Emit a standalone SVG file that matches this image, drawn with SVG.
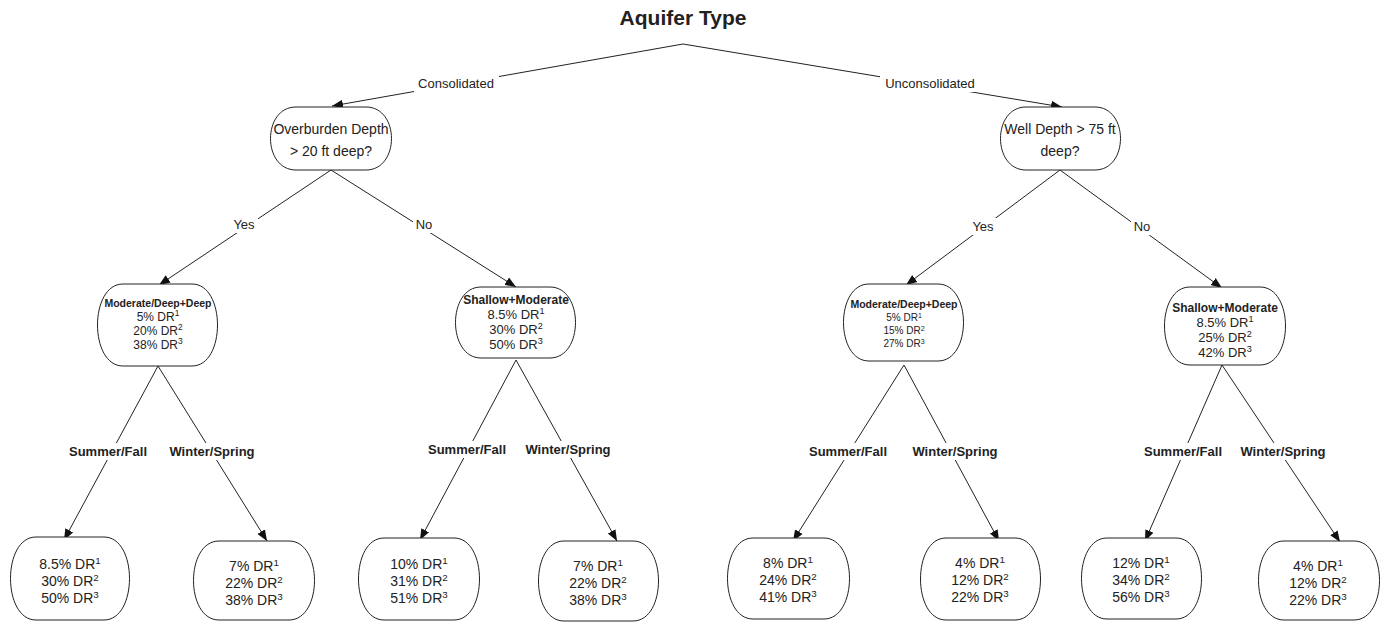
<svg xmlns="http://www.w3.org/2000/svg" width="1387" height="623" viewBox="0 0 1387 623">
<style>
.bg{fill:#fff}
.node{fill:#fff;stroke:#222;stroke-width:1}
.edge{stroke:#222;stroke-width:1;fill:none;marker-end:url(#arr)}
.lb{fill:#fff}
text{font-family:"Liberation Sans",Arial,sans-serif;fill:#222;text-anchor:middle}
.t{font-size:14px}
.el{font-size:13px}
.sl{font-size:13px;font-weight:bold}
.title{font-size:21px;font-weight:bold}
.s{font-size:70%;baseline-shift:super}
</style>
<defs>
<marker id="arr" viewBox="0 0 10 10" refX="10" refY="5" markerWidth="11" markerHeight="11" markerUnits="userSpaceOnUse" orient="auto">
<path d="M0,1 L10,5 L0,9 Z" fill="#111"/>
</marker>
</defs>
<rect class="bg" x="0" y="0" width="1387" height="623"/>
<text class="title" x="683" y="25">Aquifer Type</text>

<g id="connectors">
<path class="edge" d="M683,44 L332,106"/>
<path class="edge" d="M683,44 L1062,107"/>
<path class="edge" d="M331,170 L159,285"/>
<path class="edge" d="M331,170 L516,287"/>
<path class="edge" d="M1060,170 L906,285"/>
<path class="edge" d="M1060,170 L1222,288"/>
<path class="edge" d="M158,366 L64,540"/>
<path class="edge" d="M158,366 L267,541"/>
<path class="edge" d="M516,360 L420,540"/>
<path class="edge" d="M516,360 L617,541"/>
<path class="edge" d="M904,365 L793,541"/>
<path class="edge" d="M904,365 L999,541"/>
<path class="edge" d="M1222,365 L1145,541"/>
<path class="edge" d="M1222,365 L1340,542"/>
<rect class="lb" x="414" y="75" width="85" height="17"/>
<text class="el" x="456" y="88">Consolidated</text>
<rect class="lb" x="880" y="75" width="100" height="17"/>
<text class="el" x="930" y="88">Unconsolidated</text>
<rect class="lb" x="231" y="216" width="27" height="17"/>
<text class="el" x="244" y="229">Yes</text>
<rect class="lb" x="413" y="216" width="22" height="17"/>
<text class="el" x="424" y="229">No</text>
<rect class="lb" x="970" y="218" width="27" height="17"/>
<text class="el" x="983" y="231">Yes</text>
<rect class="lb" x="1131" y="218" width="22" height="17"/>
<text class="el" x="1142" y="231">No</text>
<rect class="lb" x="66" y="443" width="85" height="17"/>
<text class="sl" x="108" y="456">Summer/Fall</text>
<rect class="lb" x="166" y="443" width="93" height="17"/>
<text class="sl" x="212" y="456">Winter/Spring</text>
<rect class="lb" x="425" y="441" width="85" height="17"/>
<text class="sl" x="467" y="454">Summer/Fall</text>
<rect class="lb" x="522" y="441" width="93" height="17"/>
<text class="sl" x="568" y="454">Winter/Spring</text>
<rect class="lb" x="806" y="443" width="85" height="17"/>
<text class="sl" x="848" y="456">Summer/Fall</text>
<rect class="lb" x="908" y="443" width="93" height="17"/>
<text class="sl" x="955" y="456">Winter/Spring</text>
<rect class="lb" x="1141" y="443" width="85" height="17"/>
<text class="sl" x="1183" y="456">Summer/Fall</text>
<rect class="lb" x="1237" y="443" width="93" height="17"/>
<text class="sl" x="1283" y="456">Winter/Spring</text>
</g>

<g id="n-overburden">
<path class="node" d="M296,107 H366 C400,107 400,170 366,170 H296 C262,170 262,107 296,107 Z"/>
<text class="t" x="331" y="134">Overburden Depth</text>
<text class="t" x="331" y="156">&gt; 20 ft deep?</text>
</g>
<g id="n-welldepth">
<path class="node" d="M1026,107 H1095 C1129,107 1129,170 1095,170 H1026 C992,170 992,107 1026,107 Z"/>
<text class="t" x="1060" y="134">Well Depth &gt; 75 ft</text>
<text class="t" x="1060" y="156">deep?</text>
</g>

<g id="n-c-yes">
<path class="node" d="M123,284 H192 C226,284 226,366 192,366 H123 C89,366 89,284 123,284 Z"/>
<text x="158" y="307" style="font-size:10.5px;font-weight:bold">Moderate/Deep+Deep</text>
<text x="158" y="321" style="font-size:12px">5% DR<tspan class="s">1</tspan></text>
<text x="158" y="335" style="font-size:12px">20% DR<tspan class="s">2</tspan></text>
<text x="158" y="349" style="font-size:12px">38% DR<tspan class="s">3</tspan></text>
</g>
<g id="n-c-no">
<path class="node" d="M481,287 H550 C584,287 584,358 550,358 H481 C447,358 447,287 481,287 Z"/>
<text x="516" y="304" style="font-size:12px;font-weight:bold">Shallow+Moderate</text>
<text x="516" y="319" style="font-size:13px">8.5% DR<tspan class="s">1</tspan></text>
<text x="516" y="334" style="font-size:13px">30% DR<tspan class="s">2</tspan></text>
<text x="516" y="349" style="font-size:13px">50% DR<tspan class="s">3</tspan></text>
</g>
<g id="n-u-yes">
<path class="node" d="M869,284 H938 C972,284 972,361 938,361 H869 C835,361 835,284 869,284 Z"/>
<text x="904" y="308" style="font-size:10.5px;font-weight:bold">Moderate/Deep+Deep</text>
<text x="904" y="321" style="font-size:10px">5% DR<tspan class="s">1</tspan></text>
<text x="904" y="334" style="font-size:10px">15% DR<tspan class="s">2</tspan></text>
<text x="904" y="347" style="font-size:10px">27% DR<tspan class="s">3</tspan></text>
</g>
<g id="n-u-no">
<path class="node" d="M1190,287 H1260 C1294,287 1294,365 1260,365 H1190 C1156,365 1156,287 1190,287 Z"/>
<text x="1225" y="312" style="font-size:12px;font-weight:bold">Shallow+Moderate</text>
<text x="1225" y="327" style="font-size:13px">8.5% DR<tspan class="s">1</tspan></text>
<text x="1225" y="342" style="font-size:13px">25% DR<tspan class="s">2</tspan></text>
<text x="1225" y="357" style="font-size:13px">42% DR<tspan class="s">3</tspan></text>
</g>

<g id="leaf1">
<path class="node" d="M36,537 H104 C138,537 138,620 104,620 H36 C2,620 2,537 36,537 Z"/>
<text class="t" x="70" y="569">8.5% DR<tspan class="s">1</tspan></text>
<text class="t" x="70" y="586">30% DR<tspan class="s">2</tspan></text>
<text class="t" x="70" y="603">50% DR<tspan class="s">3</tspan></text>
</g>
<g id="leaf2">
<path class="node" d="M219,541 H289 C323,541 323,620 289,620 H219 C185,620 185,541 219,541 Z"/>
<text class="t" x="254" y="571">7% DR<tspan class="s">1</tspan></text>
<text class="t" x="254" y="588">22% DR<tspan class="s">2</tspan></text>
<text class="t" x="254" y="605">38% DR<tspan class="s">3</tspan></text>
</g>
<g id="leaf3">
<path class="node" d="M384,538 H454 C488,538 488,620 454,620 H384 C350,620 350,538 384,538 Z"/>
<text class="t" x="419" y="569">10% DR<tspan class="s">1</tspan></text>
<text class="t" x="419" y="586">31% DR<tspan class="s">2</tspan></text>
<text class="t" x="419" y="603">51% DR<tspan class="s">3</tspan></text>
</g>
<g id="leaf4">
<path class="node" d="M564,541 H633 C667,541 667,621 633,621 H564 C530,621 530,541 564,541 Z"/>
<text class="t" x="598" y="571">7% DR<tspan class="s">1</tspan></text>
<text class="t" x="598" y="588">22% DR<tspan class="s">2</tspan></text>
<text class="t" x="598" y="605">38% DR<tspan class="s">3</tspan></text>
</g>
<g id="leaf5">
<path class="node" d="M753,538 H824 C858,538 858,619 824,619 H753 C719,619 719,538 753,538 Z"/>
<text class="t" x="788" y="568">8% DR<tspan class="s">1</tspan></text>
<text class="t" x="788" y="585">24% DR<tspan class="s">2</tspan></text>
<text class="t" x="788" y="602">41% DR<tspan class="s">3</tspan></text>
</g>
<g id="leaf6">
<path class="node" d="M946,538 H1015 C1049,538 1049,620 1015,620 H946 C912,620 912,538 946,538 Z"/>
<text class="t" x="980" y="568">4% DR<tspan class="s">1</tspan></text>
<text class="t" x="980" y="585">12% DR<tspan class="s">2</tspan></text>
<text class="t" x="980" y="602">22% DR<tspan class="s">3</tspan></text>
</g>
<g id="leaf7">
<path class="node" d="M1107,538 H1176 C1210,538 1210,619 1176,619 H1107 C1073,619 1073,538 1107,538 Z"/>
<text class="t" x="1141" y="568">12% DR<tspan class="s">1</tspan></text>
<text class="t" x="1141" y="585">34% DR<tspan class="s">2</tspan></text>
<text class="t" x="1141" y="602">56% DR<tspan class="s">3</tspan></text>
</g>
<g id="leaf8">
<path class="node" d="M1284,541 H1354 C1388,541 1388,620 1354,620 H1284 C1250,620 1250,541 1284,541 Z"/>
<text class="t" x="1318" y="571">4% DR<tspan class="s">1</tspan></text>
<text class="t" x="1318" y="588">12% DR<tspan class="s">2</tspan></text>
<text class="t" x="1318" y="605">22% DR<tspan class="s">3</tspan></text>
</g>
</svg>
